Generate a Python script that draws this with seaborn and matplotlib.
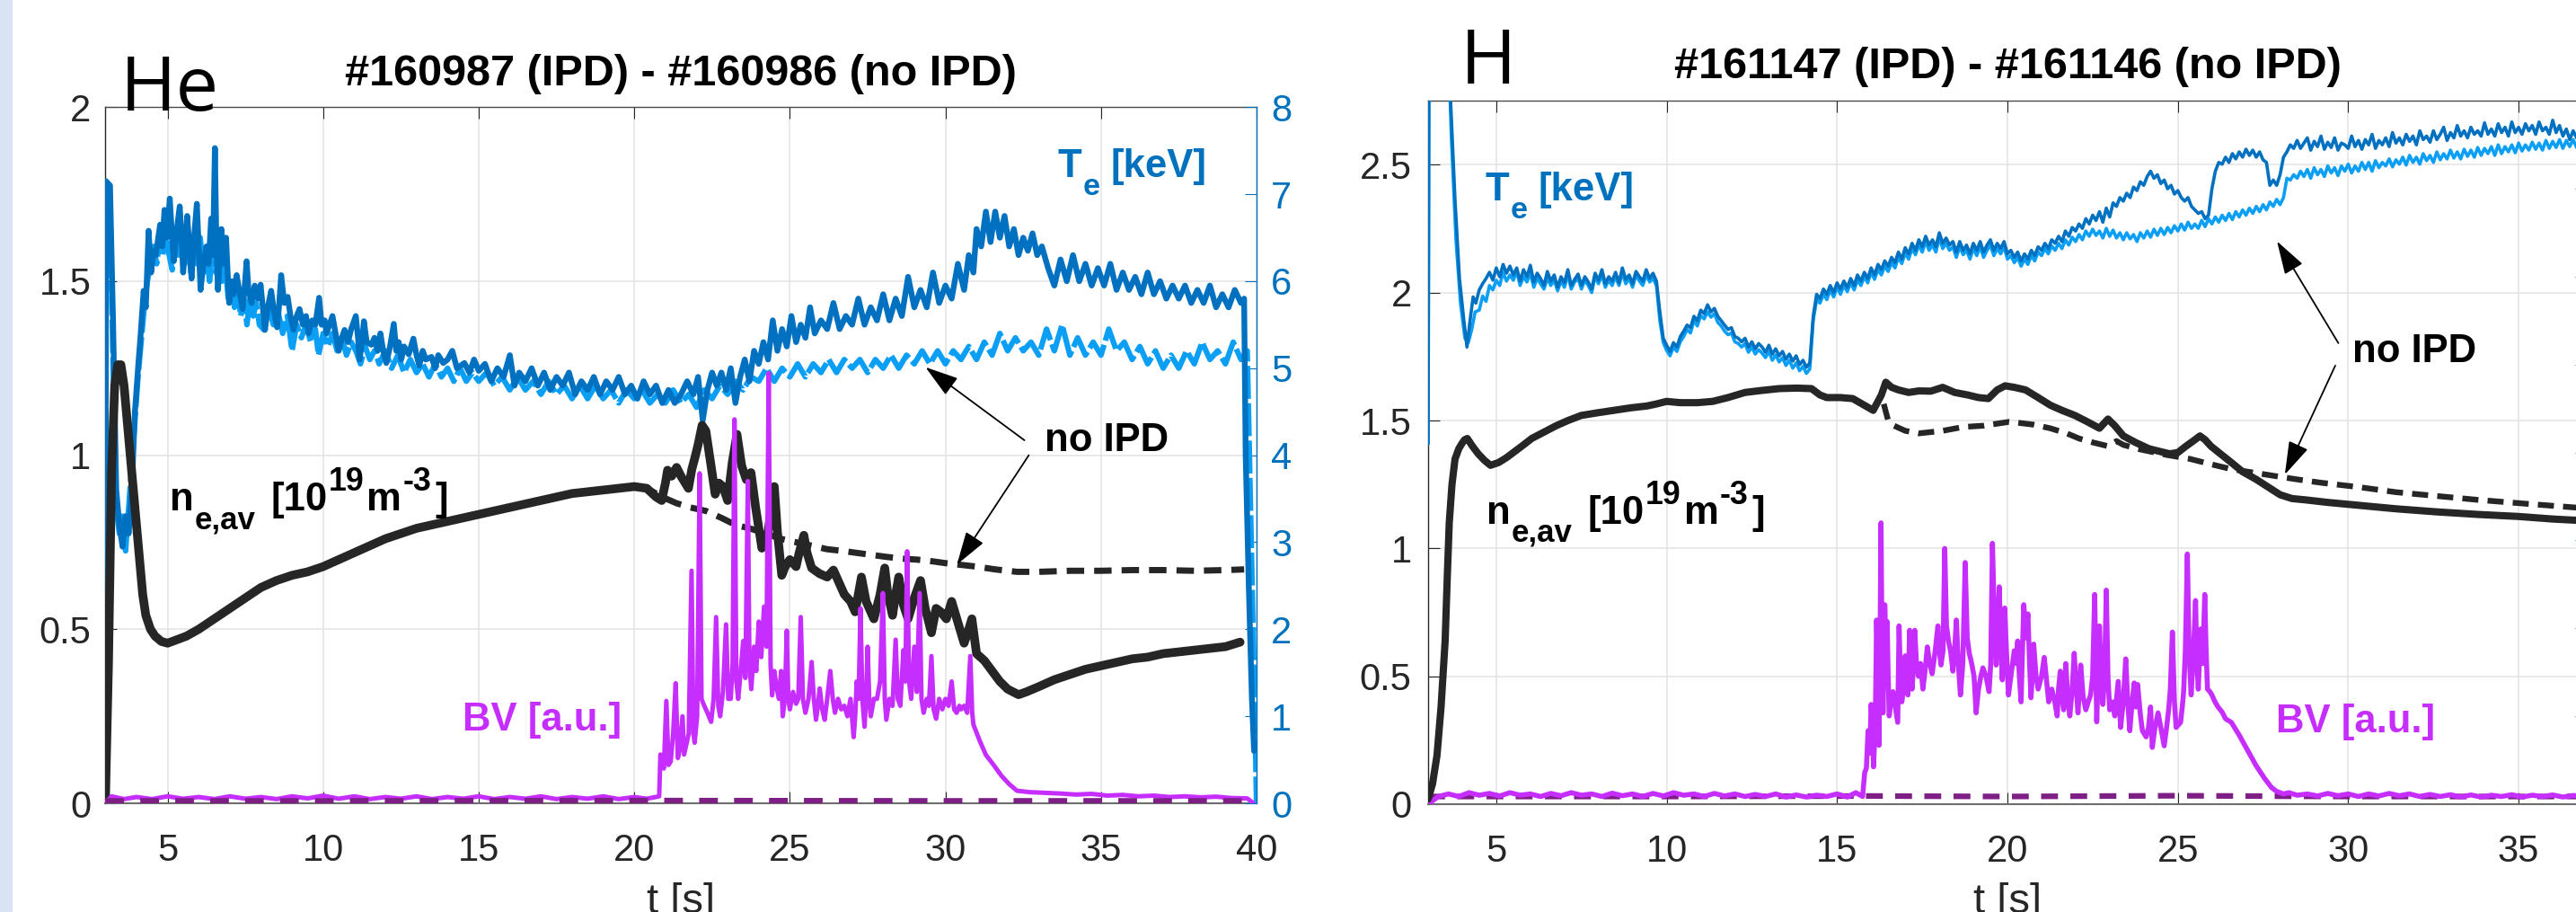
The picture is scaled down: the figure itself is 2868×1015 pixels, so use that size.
import numpy as np
import pandas as pd
import matplotlib
matplotlib.use("Agg")
import matplotlib.pyplot as plt
import seaborn as sns
from matplotlib.patches import Rectangle

W, H = 2868, 1015
sns.set_theme(style="white")
plt.rcParams["font.family"] = ["Liberation Sans", "DejaVu Sans"]

DARK_BLUE = "#0070C0"
LIGHT_BLUE = "#0A9FF5"
AX_BLUE = "#0072BD"
NE_COL = "#262626"
BV_COL = "#C62EFF"
BV_NO = "#7E1F86"

# ---------------- He panel (#160987 IPD / #160986 no IPD) ----------------
te_ipd_he = [(3.00,0.5),(3.02,7.15),(3.15,7.1),(3.25,5.5),(3.35,3.6),(3.45,3.2),(3.55,2.95),(3.65,3.3),(3.75,3.1),(3.85,3.6),(3.95,4.5),(4.05,5.0),(4.13,5.37),(4.23,5.89),(4.30,5.7),(4.39,6.58),(4.47,6.1),(4.55,6.35),(4.62,6.3),(4.70,6.5),(4.76,6.65),(4.83,6.4),(4.90,6.82),(4.98,6.5),(5.07,6.95),(5.13,6.6),(5.20,6.23),(5.30,6.6),(5.39,6.86),(5.45,6.5),(5.50,6.1),(5.57,6.4),(5.63,6.75),(5.70,6.4),(5.77,6.03),(5.85,6.5),(5.94,6.89),(6.00,6.4),(6.06,5.9),(6.15,6.2),(6.25,6.4),(6.32,6.2),(6.40,6.72),(6.46,6.3),(6.52,7.53),(6.57,6.4),(6.62,5.9),(6.68,6.3),(6.73,6.6),(6.80,6.2),(6.88,6.5),(6.93,6.1),(6.98,5.75),(7.05,6.0),(7.12,5.85),(7.22,6.07),(7.30,5.9),(7.41,5.68),(7.47,5.9),(7.54,6.23),(7.60,5.9),(7.70,5.75),(7.80,5.95),(7.90,5.8),(7.99,5.96),(8.06,5.7),(8.13,5.44),(8.22,5.7),(8.33,5.89),(8.42,5.65),(8.52,5.47),(8.58,5.7),(8.65,6.07),(8.75,5.75),(8.86,5.82),(8.95,5.6),(9.05,5.44),(9.15,5.6),(9.24,5.68),(9.35,5.5),(9.45,5.6),(9.53,5.4),(9.65,5.55),(9.75,5.5),(9.87,5.81),(9.95,5.5),(10.05,5.55),(10.11,5.4),(10.20,5.5),(10.30,5.6),(10.40,5.4),(10.50,5.2),(10.60,5.35),(10.69,5.44),(10.80,5.3),(10.90,5.45),(11.05,5.6),(11.12,5.35),(11.17,5.1),(11.25,5.3),(11.31,5.54),(11.40,5.3),(11.55,5.27),(11.65,5.35),(11.75,5.2),(11.84,5.4),(11.93,5.2),(12.03,5.06),(12.15,5.25),(12.27,5.51),(12.35,5.2),(12.43,5.3),(12.51,5.1),(12.60,5.25),(12.75,5.16),(12.90,5.34),(13.00,5.15),(13.09,5.03),(13.20,5.2),(13.30,5.1),(13.48,5.13),(13.60,5.0),(13.70,5.15),(13.86,5.06),(14.00,5.1),(14.15,5.2),(14.30,5.0),(14.54,5.06),(14.70,4.95),(14.85,5.1),(15.00,4.97),(15.20,5.05),(15.40,4.85),(15.60,5.0),(15.80,4.9),(16.00,5.15),(16.15,4.8),(16.30,4.95),(16.50,4.85),(16.70,5.0),(16.90,4.8),(17.10,4.95),(17.30,4.75),(17.50,4.9),(17.70,4.8),(17.90,4.95),(18.10,4.7),(18.30,4.85),(18.50,4.75),(18.70,4.9),(18.90,4.7),(19.10,4.85),(19.30,4.75),(19.50,4.9),(19.70,4.7),(19.90,4.8),(20.10,4.65),(20.30,4.85),(20.50,4.7),(20.70,4.8),(20.90,4.6),(21.10,4.75),(21.30,4.6),(21.50,4.7),(21.70,4.85),(21.90,4.7),(22.05,4.9),(22.20,4.4),(22.35,4.75),(22.50,4.95),(22.65,4.8),(22.80,4.95),(22.95,4.75),(23.10,5.0),(23.25,4.6),(23.40,4.9),(23.55,5.1),(23.70,4.85),(23.85,5.2),(24.00,5.05),(24.15,5.3),(24.30,5.1),(24.45,5.55),(24.60,5.2),(24.75,5.45),(24.90,5.25),(25.05,5.6),(25.20,5.3),(25.35,5.5),(25.50,5.35),(25.65,5.7),(25.80,5.4),(26.00,5.55),(26.20,5.45),(26.40,5.75),(26.60,5.45),(26.80,5.6),(27.00,5.5),(27.20,5.8),(27.40,5.5),(27.60,5.7),(27.80,5.55),(28.00,5.85),(28.20,5.55),(28.40,5.8),(28.60,5.6),(28.80,6.05),(29.00,5.7),(29.20,5.9),(29.40,5.7),(29.60,6.1),(29.80,5.75),(30.00,5.95),(30.20,5.8),(30.40,6.2),(30.60,5.9),(30.75,6.3),(30.90,6.1),(31.00,6.6),(31.15,6.4),(31.30,6.8),(31.45,6.45),(31.60,6.8),(31.75,6.5),(31.90,6.75),(32.05,6.4),(32.20,6.6),(32.35,6.3),(32.50,6.5),(32.65,6.35),(32.80,6.55),(32.95,6.3),(33.10,6.4),(33.30,6.15),(33.50,5.95),(33.70,6.25),(33.90,6.0),(34.10,6.3),(34.30,6.0),(34.50,6.2),(34.70,5.95),(34.90,6.15),(35.10,5.95),(35.30,6.2),(35.50,5.9),(35.70,6.1),(35.90,5.9),(36.10,6.05),(36.30,5.85),(36.50,6.1),(36.70,5.85),(36.90,6.0),(37.10,5.8),(37.30,5.95),(37.50,5.8),(37.70,5.95),(37.90,5.75),(38.10,5.9),(38.30,5.75),(38.50,5.95),(38.70,5.7),(38.90,5.85),(39.10,5.7),(39.30,5.9),(39.50,5.75),(39.60,5.8),(39.65,4.0),(39.75,2.5),(39.85,1.2),(39.92,0.6)]

te_noipd_he = [(3.0,0.3),(3.03,7.0),(3.15,6.9),(3.25,5.0),(3.35,3.4),(3.45,3.1),(3.55,3.3),(3.65,2.9),(3.75,3.4),(3.85,3.9),(3.95,4.4),(4.05,4.9),(4.15,5.3),(4.25,5.7),(4.35,6.0),(4.45,6.2),(4.55,6.4),(4.65,6.2),(4.75,6.5),(4.85,6.3),(4.95,6.6),(5.05,6.3),(5.15,6.13),(5.25,6.5),(5.35,6.3),(5.45,6.6),(5.55,6.2),(5.65,6.5),(5.75,6.1),(5.85,6.4),(5.95,6.2),(6.05,6.5),(6.15,6.1),(6.25,6.3),(6.35,6.0),(6.45,6.4),(6.55,6.1),(6.65,6.3),(6.75,6.0),(6.85,6.2),(6.95,5.8),(7.05,6.0),(7.15,5.7),(7.25,5.9),(7.35,5.6),(7.45,5.8),(7.55,5.5),(7.65,5.8),(7.75,5.6),(7.85,5.75),(7.95,5.5),(8.1,5.44),(8.25,5.7),(8.4,5.5),(8.55,5.65),(8.7,5.4),(8.85,5.6),(9.0,5.2),(9.15,5.5),(9.3,5.35),(9.45,5.5),(9.6,5.3),(9.75,5.45),(9.85,5.15),(10.0,5.4),(10.15,5.25),(10.3,5.4),(10.45,5.2),(10.6,5.35),(10.75,5.15),(10.9,5.3),(11.05,5.2),(11.2,5.05),(11.35,5.25),(11.5,5.1),(11.65,5.2),(11.8,5.05),(12.0,5.2),(12.2,5.0),(12.4,5.15),(12.6,4.95),(12.8,5.1),(13.0,4.95),(13.2,5.05),(13.4,4.9),(13.6,5.05),(13.8,4.9),(14.0,5.0),(14.2,4.85),(14.4,5.0),(14.6,4.85),(14.8,4.95),(15.0,4.85),(15.25,4.95),(15.5,4.8),(15.75,4.9),(16.0,4.75),(16.25,4.9),(16.5,4.75),(16.75,4.85),(17.0,4.7),(17.25,4.85),(17.5,4.7),(17.75,4.8),(18.0,4.65),(18.25,4.8),(18.5,4.65),(18.75,4.8),(19.0,4.65),(19.25,4.75),(19.5,4.6),(19.75,4.75),(20.0,4.65),(20.25,4.75),(20.5,4.6),(20.75,4.7),(21.0,4.6),(21.25,4.75),(21.5,4.6),(21.75,4.7),(22.0,4.55),(22.25,4.75),(22.5,4.65),(22.75,4.8),(23.0,4.7),(23.25,4.85),(23.5,4.75),(23.75,4.9),(24.0,4.85),(24.25,5.0),(24.5,4.85),(24.75,5.0),(25.0,4.9),(25.25,5.05),(25.5,4.9),(25.75,5.05),(26.0,4.95),(26.25,5.1),(26.5,4.95),(26.75,5.1),(27.0,5.0),(27.25,5.1),(27.5,4.95),(27.75,5.1),(28.0,5.0),(28.25,5.15),(28.5,5.0),(28.75,5.15),(29.0,5.05),(29.25,5.2),(29.5,5.05),(29.75,5.2),(30.0,5.05),(30.25,5.2),(30.5,5.1),(30.75,5.25),(31.0,5.1),(31.25,5.3),(31.5,5.15),(31.75,5.4),(32.0,5.2),(32.25,5.35),(32.5,5.2),(32.75,5.3),(33.0,5.15),(33.25,5.45),(33.5,5.2),(33.75,5.5),(34.0,5.15),(34.25,5.35),(34.5,5.15),(34.75,5.3),(35.0,5.15),(35.25,5.45),(35.5,5.2),(35.75,5.3),(36.0,5.1),(36.25,5.25),(36.5,5.05),(36.75,5.2),(37.0,5.0),(37.25,5.15),(37.5,5.0),(37.75,5.2),(38.0,5.05),(38.25,5.3),(38.5,5.1),(38.75,5.2),(39.0,5.05),(39.25,5.3),(39.5,5.1),(39.7,5.2),(39.8,3.5),(39.9,1.8),(39.97,0.5),(40.0,0.0)]

ne_common_he = [(3.0,0.0),(3.1,0.4),(3.2,0.95),(3.3,1.2),(3.4,1.26),(3.5,1.26),(3.6,1.2),(3.7,1.1),(3.8,1.0),(3.9,0.9),(4.0,0.8),(4.1,0.7),(4.2,0.6),(4.3,0.54),(4.45,0.5),(4.6,0.48),(4.8,0.465),(5.0,0.46),(5.3,0.47),(5.6,0.48),(6.0,0.5),(6.5,0.53),(7.0,0.56),(7.5,0.59),(8.0,0.62),(8.5,0.64),(9.0,0.655),(9.5,0.665),(10.0,0.68),(10.5,0.70),(11.0,0.72),(11.5,0.74),(12.0,0.76),(12.5,0.775),(13.0,0.79),(13.5,0.80),(14.0,0.81),(14.5,0.82),(15.0,0.83),(15.5,0.84),(16.0,0.85),(16.5,0.86),(17.0,0.87),(17.5,0.88),(18.0,0.89),(18.5,0.895),(19.0,0.90),(19.5,0.905),(20.0,0.91),(20.4,0.905)]
ne_ipd_he_tail = [(20.7,0.88),(20.88,0.87),(21.0,0.92),(21.07,0.957),(21.2,0.94),(21.36,0.965),(21.5,0.94),(21.74,0.905),(21.85,0.96),(21.94,0.99),(22.05,1.03),(22.18,1.086),(22.3,1.07),(22.45,0.98),(22.6,0.888),(22.72,0.92),(22.85,0.91),(23.0,0.87),(23.15,0.98),(23.3,1.06),(23.45,0.97),(23.6,0.93),(23.75,0.95),(23.9,0.85),(24.1,0.733),(24.3,0.78),(24.5,0.91),(24.6,0.78),(24.74,0.655),(24.85,0.68),(25.0,0.70),(25.2,0.68),(25.3,0.72),(25.45,0.77),(25.55,0.72),(25.7,0.676),(25.95,0.66),(26.2,0.65),(26.4,0.67),(26.55,0.64),(26.75,0.60),(26.95,0.58),(27.1,0.55),(27.2,0.6),(27.3,0.65),(27.45,0.58),(27.7,0.53),(27.9,0.6),(28.05,0.676),(28.15,0.6),(28.3,0.54),(28.4,0.6),(28.5,0.65),(28.65,0.57),(28.8,0.53),(29.0,0.59),(29.2,0.64),(29.35,0.56),(29.55,0.49),(29.7,0.56),(29.85,0.55),(30.03,0.53),(30.2,0.58),(30.4,0.52),(30.6,0.46),(30.75,0.5),(30.85,0.53),(31.0,0.43),(31.25,0.41),(31.5,0.38),(31.75,0.35),(32.0,0.328),(32.35,0.312),(32.6,0.32),(33.0,0.335),(33.5,0.355),(34.0,0.37),(34.5,0.385),(35.0,0.395),(35.5,0.405),(36.0,0.415),(36.5,0.42),(37.0,0.43),(37.5,0.435),(38.0,0.44),(38.5,0.445),(39.0,0.45),(39.47,0.463)]
ne_noipd_he_tail = [(20.9,0.88),(21.36,0.862),(21.8,0.85),(22.3,0.84),(22.8,0.82),(23.25,0.80),(23.7,0.79),(24.2,0.776),(24.7,0.76),(25.2,0.75),(25.7,0.74),(26.2,0.73),(26.7,0.725),(27.1,0.72),(27.6,0.714),(28.1,0.708),(28.6,0.703),(29.1,0.70),(29.6,0.695),(30.0,0.69),(30.5,0.685),(31.0,0.68),(31.6,0.672),(32.3,0.665),(33.0,0.665),(34.0,0.668),(35.0,0.668),(36.0,0.67),(37.0,0.67),(38.0,0.668),(39.0,0.67),(39.6,0.672)]

bv_ipd_he = [(3.0,0.0),(3.2,0.02),(3.6,0.012),(4.0,0.018),(4.5,0.012),(5.0,0.02),(5.5,0.013),(6.0,0.018),(6.5,0.012),(7.0,0.02),(7.5,0.013),(8.0,0.018),(8.5,0.012),(9.0,0.02),(9.5,0.014),(10.0,0.022),(10.5,0.013),(11.0,0.02),(11.5,0.012),(12.0,0.018),(12.5,0.013),(13.0,0.02),(13.5,0.012),(14.0,0.018),(14.5,0.013),(15.0,0.02),(15.5,0.012),(16.0,0.018),(16.5,0.013),(17.0,0.02),(17.5,0.012),(18.0,0.018),(18.5,0.013),(19.0,0.02),(19.5,0.012),(20.0,0.018),(20.4,0.013),(20.8,0.02),(20.84,0.14),(20.95,0.1),(21.03,0.294),(21.1,0.11),(21.17,0.12),(21.25,0.2),(21.33,0.345),(21.4,0.13),(21.45,0.15),(21.55,0.25),(21.6,0.14),(21.65,0.16),(21.75,0.2),(21.84,0.668),(21.9,0.2),(21.94,0.174),(22.02,0.25),(22.1,0.948),(22.16,0.3),(22.22,0.286),(22.35,0.26),(22.47,0.234),(22.55,0.3),(22.63,0.535),(22.7,0.28),(22.76,0.25),(22.85,0.32),(22.95,0.514),(23.02,0.3),(23.1,0.3),(23.16,0.4),(23.22,1.103),(23.28,0.35),(23.34,0.3),(23.42,0.38),(23.5,0.466),(23.57,0.36),(23.65,0.926),(23.7,0.4),(23.76,0.328),(23.85,0.45),(23.92,0.38),(24.0,0.522),(24.08,0.42),(24.17,0.565),(24.25,0.45),(24.32,1.236),(24.38,0.4),(24.43,0.31),(24.5,0.38),(24.58,0.33),(24.65,0.3),(24.72,0.38),(24.77,0.25),(24.84,0.3),(24.9,0.496),(24.95,0.3),(25.0,0.27),(25.1,0.32),(25.2,0.286),(25.27,0.3),(25.35,0.535),(25.42,0.3),(25.5,0.26),(25.6,0.3),(25.7,0.406),(25.77,0.3),(25.84,0.24),(25.9,0.28),(25.96,0.33),(26.04,0.27),(26.12,0.24),(26.2,0.3),(26.3,0.38),(26.38,0.3),(26.45,0.26),(26.55,0.3),(26.65,0.27),(26.75,0.28),(26.85,0.25),(26.95,0.3),(27.05,0.19),(27.1,0.25),(27.15,0.35),(27.21,0.3),(27.27,0.56),(27.33,0.3),(27.4,0.22),(27.45,0.3),(27.5,0.45),(27.55,0.3),(27.6,0.25),(27.7,0.3),(27.8,0.3),(27.9,0.35),(27.99,0.604),(28.05,0.3),(28.1,0.24),(28.2,0.3),(28.3,0.28),(28.4,0.47),(28.47,0.3),(28.55,0.28),(28.65,0.44),(28.71,0.35),(28.77,0.724),(28.83,0.35),(28.9,0.3),(29.0,0.45),(29.08,0.32),(29.17,0.604),(29.23,0.3),(29.3,0.26),(29.4,0.3),(29.47,0.28),(29.55,0.423),(29.62,0.27),(29.7,0.243),(29.8,0.3),(29.9,0.27),(30.0,0.3),(30.1,0.28),(30.2,0.35),(30.28,0.27),(30.36,0.26),(30.45,0.28),(30.5,0.27),(30.6,0.28),(30.7,0.26),(30.8,0.423),(30.86,0.26),(30.9,0.226),(31.1,0.18),(31.3,0.139),(31.55,0.11),(31.8,0.079),(32.05,0.055),(32.3,0.036),(32.7,0.032),(33.2,0.03),(33.7,0.028),(34.2,0.025),(34.7,0.027),(35.2,0.022),(35.7,0.024),(36.2,0.02),(36.7,0.022),(37.2,0.018),(37.7,0.02),(38.2,0.017),(38.7,0.019),(39.2,0.015),(39.7,0.014),(39.9,0.0)]
bv_noipd_he = [(3.0,0.006),(10.0,0.006),(20.0,0.007),(30.0,0.006),(39.9,0.006)]

# ---------------- H panel (#161147 IPD / #161146 no IPD) ----------------
# Te start (pairs) then samples every 0.1 s from 4.5 s to 37.0 s
te_ipd_h_start = [(3.0,4.1),(3.02,8.6),(3.6,8.6),(3.66,8.0),(3.79,6.87),(3.92,5.98),(4.05,5.5),(4.14,5.2),(4.23,5.5),(4.32,5.77),(4.40,5.7)]
te_ipd_h_vals = [5.85,5.92,5.98,6.05,5.96,6.1,6.0,6.14,6.04,6.12,
6.02,6.1,5.95,6.08,6.0,6.13,5.94,6.04,5.98,5.9,
6.06,5.95,6.02,5.88,6.0,5.93,6.08,5.9,5.97,6.03,
5.9,6.0,5.94,5.86,6.04,5.96,6.08,5.92,6.0,5.95,
6.05,5.93,6.1,5.97,6.02,5.92,6.06,6.0,5.95,6.08,
5.98,6.04,5.95,5.6,5.3,5.22,5.15,5.25,5.2,5.32,
5.38,5.45,5.42,5.55,5.5,5.62,5.58,5.68,5.6,5.64,
5.55,5.5,5.45,5.4,5.42,5.32,5.3,5.26,5.3,5.2,
5.26,5.18,5.24,5.2,5.14,5.22,5.12,5.18,5.1,5.15,
5.06,5.12,5.04,5.1,5.0,5.05,4.97,5.02,5.55,5.8,
5.75,5.86,5.8,5.9,5.82,5.93,5.86,5.95,5.88,5.98,
5.9,6.02,5.95,6.05,5.98,6.1,6.02,6.14,6.08,6.18,
6.12,6.22,6.16,6.28,6.2,6.33,6.26,6.38,6.3,6.42,
6.34,6.46,6.36,6.42,6.34,6.5,6.38,6.44,6.36,6.4,
6.28,6.4,6.3,6.36,6.26,6.38,6.3,6.4,6.28,6.36,
6.42,6.3,6.38,6.32,6.4,6.26,6.3,6.22,6.28,6.18,
6.26,6.2,6.3,6.24,6.34,6.3,6.38,6.32,6.42,6.38,
6.46,6.4,6.52,6.46,6.56,6.52,6.6,6.55,6.66,6.6,
6.7,6.64,6.74,6.62,6.78,6.68,6.84,6.8,6.9,6.86,
6.95,6.9,7.02,6.98,7.08,7.04,7.14,7.2,7.12,7.16,
7.06,7.1,7.0,7.04,6.94,6.98,6.9,6.86,6.9,6.8,
6.76,6.72,6.74,6.66,6.7,7.0,7.2,7.3,7.28,7.36,
7.3,7.4,7.34,7.42,7.36,7.45,7.38,7.44,7.36,7.42,
7.33,7.3,7.04,7.1,7.04,7.16,7.36,7.42,7.5,7.46,
7.55,7.46,7.52,7.58,7.44,7.54,7.48,7.6,7.45,7.53,
7.47,7.58,7.44,7.52,7.5,7.46,7.6,7.48,7.55,7.45,
7.56,7.5,7.62,7.46,7.55,7.5,7.58,7.48,7.64,7.52,
7.58,7.5,7.62,7.54,7.6,7.5,7.66,7.56,7.6,7.53,
7.66,7.56,7.62,7.7,7.55,7.64,7.58,7.72,7.6,7.66,
7.58,7.7,7.62,7.66,7.6,7.75,7.62,7.68,7.6,7.74,
7.64,7.7,7.6,7.76,7.64,7.7,7.62,7.74,7.66,7.72,
7.62,7.76,7.66,7.7,7.62,7.78,7.64,7.72,7.6,7.68,
7.56,7.66,7.58,7.64,7.6,7.64]

te_noipd_h_start = [(3.0,4.1),(3.03,8.6),(3.6,8.6),(3.68,7.6),(3.82,6.4),(3.95,5.7),(4.08,5.3),(4.18,5.25),(4.28,5.4),(4.38,5.6)]
te_noipd_h_vals = [5.62,5.78,5.72,5.9,5.85,5.96,5.9,6.05,5.95,6.02,
5.96,6.06,5.9,6.0,5.94,6.04,5.88,5.98,5.92,5.86,
5.98,5.9,5.96,5.84,5.95,5.88,6.02,5.86,5.94,5.98,
5.86,5.96,5.9,5.82,6.0,5.92,6.02,5.88,5.96,5.9,
6.0,5.9,6.04,5.92,5.98,5.88,6.02,5.95,5.9,6.02,
5.94,5.98,5.9,5.5,5.25,5.16,5.1,5.2,5.15,5.26,
5.32,5.4,5.36,5.5,5.44,5.56,5.52,5.6,5.54,5.58,
5.48,5.44,5.38,5.34,5.36,5.26,5.24,5.2,5.24,5.14,
5.2,5.12,5.17,5.13,5.08,5.15,5.05,5.11,5.03,5.08,
4.99,5.05,4.96,5.02,4.93,4.98,4.9,4.95,5.5,5.74,
5.7,5.8,5.74,5.85,5.77,5.88,5.8,5.9,5.83,5.93,
5.85,5.96,5.9,6.0,5.93,6.05,5.97,6.08,6.02,6.12,
6.06,6.16,6.1,6.22,6.15,6.27,6.2,6.32,6.25,6.36,
6.28,6.4,6.3,6.36,6.28,6.44,6.32,6.38,6.3,6.34,
6.22,6.34,6.25,6.3,6.2,6.32,6.24,6.34,6.22,6.3,
6.36,6.24,6.32,6.26,6.34,6.2,6.24,6.16,6.22,6.12,
6.2,6.14,6.24,6.18,6.28,6.24,6.32,6.26,6.35,6.3,
6.38,6.32,6.42,6.36,6.45,6.4,6.48,6.42,6.52,6.46,
6.54,6.47,6.52,6.44,6.55,6.46,6.53,6.44,6.5,6.42,
6.5,6.43,6.48,6.4,6.5,6.44,6.52,6.45,6.54,6.47,
6.55,6.48,6.56,6.5,6.58,6.52,6.6,6.53,6.62,6.55,
6.6,6.55,6.64,6.57,6.66,6.6,6.68,6.62,6.7,6.64,
6.72,6.65,6.74,6.68,6.76,6.7,6.78,6.72,6.8,6.74,
6.82,6.76,6.85,6.8,6.88,6.82,6.9,7.12,7.1,7.16,
7.12,7.2,7.14,7.22,7.12,7.24,7.16,7.22,7.14,7.26,
7.18,7.24,7.15,7.26,7.2,7.28,7.18,7.26,7.2,7.3,
7.22,7.3,7.2,7.32,7.24,7.3,7.26,7.34,7.25,7.33,
7.28,7.36,7.27,7.38,7.3,7.36,7.28,7.4,7.32,7.38,
7.3,7.42,7.33,7.4,7.34,7.44,7.35,7.42,7.34,7.45,
7.37,7.44,7.36,7.47,7.38,7.46,7.4,7.48,7.38,7.5,
7.4,7.48,7.42,7.5,7.41,7.52,7.43,7.5,7.44,7.53,
7.45,7.52,7.44,7.55,7.46,7.54,7.47,7.56,7.46,7.55,
7.48,7.56,7.47,7.54,7.5,7.52]
te_h_t0, te_h_dt = 4.5, 0.1

ne_common_h = [(3.0,0.02),(3.13,0.08),(3.26,0.19),(3.38,0.38),(3.5,0.64),(3.56,0.88),(3.62,1.1),(3.7,1.25),(3.79,1.35),(3.9,1.39),(3.99,1.41),(4.07,1.425),(4.15,1.43),(4.3,1.4),(4.47,1.37),(4.65,1.345),(4.83,1.325),(5.07,1.336),(5.3,1.355),(5.55,1.38),(5.8,1.405),(6.04,1.43),(6.4,1.455),(6.76,1.48),(7.1,1.5),(7.49,1.52),(7.95,1.53),(8.45,1.54),(8.95,1.55),(9.42,1.557),(9.7,1.565),(10.0,1.575),(10.4,1.57),(10.9,1.57),(11.35,1.575),(11.8,1.59),(12.3,1.61),(12.8,1.618),(13.3,1.625),(13.8,1.627),(14.25,1.625),(14.5,1.6),(14.7,1.59),(15.1,1.59),(15.46,1.586),(15.8,1.56),(16.06,1.54),(16.3,1.6)]
ne_ipd_h_tail = [(16.43,1.65),(16.6,1.63),(16.8,1.62),(17.1,1.61),(17.4,1.616),(17.75,1.615),(18.1,1.63),(18.45,1.61),(18.84,1.6),(19.15,1.59),(19.44,1.586),(19.7,1.62),(19.93,1.636),(20.2,1.63),(20.53,1.62),(20.9,1.59),(21.26,1.56),(21.6,1.54),(21.98,1.52),(22.35,1.495),(22.7,1.47),(22.95,1.506),(23.15,1.48),(23.4,1.44),(23.75,1.415),(24.15,1.39),(24.45,1.38),(24.76,1.37),(25.0,1.375),(25.24,1.40),(25.45,1.42),(25.65,1.44),(25.8,1.425),(25.97,1.40),(26.25,1.37),(26.57,1.336),(26.9,1.30),(27.3,1.27),(27.65,1.24),(28.0,1.21),(28.35,1.195),(28.74,1.19),(29.4,1.18),(30.2,1.17),(31.4,1.155),(32.6,1.143),(33.8,1.133),(35.0,1.125),(36.0,1.115),(37.0,1.108)]
ne_noipd_h_tail = [(16.5,1.5),(16.67,1.48),(17.0,1.46),(17.4,1.45),(17.75,1.455),(18.1,1.46),(18.7,1.475),(19.3,1.48),(20.05,1.495),(20.4,1.49),(20.77,1.484),(21.25,1.47),(21.74,1.45),(22.1,1.43),(22.46,1.416),(22.95,1.40),(23.2,1.42),(23.4,1.405),(23.8,1.39),(24.15,1.38),(24.7,1.365),(25.36,1.35),(25.95,1.33),(26.57,1.31),(27.3,1.295),(28.0,1.28),(28.6,1.268),(29.2,1.257),(30.3,1.24),(31.4,1.22),(32.6,1.205),(33.8,1.19),(35.2,1.175),(36.67,1.16),(37.0,1.158)]

bv_ipd_h = [(3.0,0.0),(3.15,0.015),(3.3,0.03),(3.6,0.04),(3.9,0.03),(4.2,0.045),(4.5,0.035),(4.8,0.042),(5.1,0.032),(5.4,0.045),(5.7,0.035),(6.0,0.04),(6.3,0.03),(6.6,0.042),(6.9,0.033),(7.2,0.045),(7.5,0.035),(7.8,0.04),(8.1,0.03),(8.4,0.043),(8.7,0.033),(9.0,0.04),(9.3,0.03),(9.6,0.042),(9.9,0.032),(10.2,0.045),(10.5,0.035),(10.8,0.04),(11.1,0.03),(11.4,0.042),(11.7,0.032),(12.0,0.04),(12.3,0.03),(12.6,0.038),(12.9,0.03),(13.2,0.04),(13.5,0.028),(13.8,0.036),(14.1,0.028),(14.4,0.035),(14.7,0.03),(15.0,0.04),(15.3,0.028),(15.55,0.045),(15.75,0.03),(15.81,0.123),(15.86,0.14),(15.91,0.287),(15.96,0.2),(16.0,0.39),(16.04,0.3),(16.07,0.146),(16.12,0.3),(16.16,0.72),(16.2,0.5),(16.23,0.23),(16.26,0.6),(16.29,1.1),(16.32,0.6),(16.35,0.357),(16.38,0.6),(16.4,0.78),(16.44,0.6),(16.47,0.714),(16.5,0.5),(16.53,0.345),(16.58,0.4),(16.64,0.44),(16.71,0.38),(16.78,0.32),(16.82,0.697),(16.86,0.5),(16.9,0.40),(16.95,0.45),(17.0,0.58),(17.04,0.5),(17.08,0.427),(17.13,0.68),(17.17,0.55),(17.2,0.45),(17.25,0.55),(17.28,0.68),(17.33,0.55),(17.39,0.50),(17.45,0.55),(17.52,0.45),(17.58,0.52),(17.65,0.615),(17.72,0.55),(17.79,0.51),(17.88,0.6),(17.96,0.697),(18.0,0.6),(18.05,0.544),(18.11,0.6),(18.16,1.0),(18.21,0.7),(18.27,0.638),(18.33,0.6),(18.4,0.52),(18.45,0.6),(18.5,0.72),(18.56,0.55),(18.62,0.427),(18.69,0.55),(18.76,0.945),(18.82,0.65),(18.88,0.59),(18.95,0.55),(19.02,0.50),(19.08,0.357),(19.15,0.45),(19.22,0.5),(19.28,0.533),(19.37,0.5),(19.46,0.44),(19.51,0.55),(19.56,1.02),(19.62,0.7),(19.67,0.544),(19.72,0.7),(19.76,0.85),(19.8,0.65),(19.85,0.486),(19.88,0.6),(19.92,0.767),(19.97,0.6),(20.03,0.427),(20.1,0.5),(20.2,0.60),(20.25,0.55),(20.3,0.638),(20.35,0.5),(20.4,0.40),(20.44,0.6),(20.48,0.78),(20.54,0.65),(20.6,0.744),(20.65,0.55),(20.69,0.416),(20.73,0.5),(20.77,0.626),(20.84,0.5),(20.9,0.45),(21.0,0.5),(21.08,0.574),(21.15,0.48),(21.21,0.40),(21.3,0.45),(21.39,0.40),(21.46,0.345),(21.5,0.45),(21.55,0.52),(21.6,0.42),(21.65,0.369),(21.71,0.55),(21.77,0.42),(21.83,0.345),(21.9,0.45),(21.96,0.59),(22.02,0.45),(22.07,0.357),(22.15,0.544),(22.22,0.42),(22.3,0.369),(22.37,0.4),(22.44,0.427),(22.5,0.5),(22.56,0.82),(22.62,0.322),(22.66,0.5),(22.7,0.697),(22.75,0.5),(22.8,0.39),(22.85,0.5),(22.9,0.837),(22.95,0.5),(23.0,0.369),(23.08,0.4),(23.15,0.345),(23.25,0.48),(23.32,0.30),(23.4,0.4),(23.47,0.568),(23.53,0.4),(23.59,0.287),(23.66,0.4),(23.72,0.474),(23.77,0.38),(23.82,0.468),(23.9,0.35),(23.96,0.287),(24.07,0.263),(24.14,0.3),(24.2,0.38),(24.25,0.222),(24.33,0.3),(24.42,0.357),(24.5,0.3),(24.6,0.228),(24.67,0.3),(24.73,0.369),(24.78,0.45),(24.84,0.673),(24.9,0.4),(24.95,0.30),(25.08,0.32),(25.13,0.38),(25.17,0.44),(25.22,0.6),(25.28,0.978),(25.33,0.6),(25.39,0.427),(25.46,0.6),(25.52,0.796),(25.56,0.55),(25.6,0.45),(25.67,0.685),(25.73,0.55),(25.79,0.82),(25.83,0.6),(25.87,0.45),(25.94,0.44),(26.0,0.427),(26.09,0.4),(26.18,0.38),(26.3,0.36),(26.4,0.334),(26.57,0.32),(26.8,0.27),(27.05,0.21),(27.3,0.15),(27.55,0.1),(27.75,0.065),(27.9,0.05),(28.1,0.04),(28.26,0.045),(28.5,0.035),(28.8,0.04),(29.1,0.032),(29.4,0.042),(29.7,0.033),(30.0,0.04),(30.3,0.03),(30.6,0.04),(30.9,0.032),(31.2,0.042),(31.5,0.033),(31.8,0.04),(32.1,0.03),(32.4,0.038),(32.7,0.03),(33.0,0.037),(33.3,0.028),(33.6,0.036),(33.9,0.028),(34.2,0.035),(34.5,0.03),(34.8,0.037),(35.1,0.028),(35.4,0.035),(35.7,0.03),(36.0,0.036),(36.3,0.028),(36.6,0.034),(37.0,0.03)]
bv_noipd_h = [(3.0,0.03),(10.0,0.03),(16.0,0.032),(20.0,0.03),(25.0,0.033),(30.0,0.03),(37.0,0.03)]

x_ticks = [5, 10, 15, 20, 25, 30, 35, 40]
he_yticks = [0, 0.5, 1, 1.5, 2]
he_ylabels = ["0", "0.5", "1", "1.5", "2"]
h_yticks = [0, 0.5, 1, 1.5, 2, 2.5]
h_ylabels = ["0", "0.5", "1", "1.5", "2", "2.5"]
te_ticks = [0, 1, 2, 3, 4, 5, 6, 7, 8]


def sampled(start_pairs, vals, t0, dt):
    return list(start_pairs) + [(round(t0 + dt * i, 3), v) for i, v in enumerate(vals)]


fig = plt.figure(figsize=(W / 100, H / 100), dpi=100)
fig.patch.set_facecolor("white")
fig.add_artist(Rectangle((0, 0), 14 / W, 1, transform=fig.transFigure,
                         facecolor="#DAE3F3", edgecolor="none", zorder=-5))


def draw(ax, pts, color, lw, ls="-", z=2):
    df = pd.DataFrame(pts, columns=["t", "v"])
    sns.lineplot(data=df, x="t", y="v", ax=ax, color=color, linewidth=lw,
                 linestyle=ls, estimator=None, sort=False, zorder=z, legend=False,
                 solid_joinstyle="round")


def make_panel(px_left, px_right, px_top, px_bottom):
    rect = [px_left / W, 1 - px_bottom / H, (px_right - px_left) / W, (px_bottom - px_top) / H]
    ax = fig.add_axes(rect)
    tw = ax.twinx()
    ov = fig.add_axes(rect, sharex=ax, sharey=ax)
    ov.set_axis_off()
    ov.patch.set_visible(False)
    return ax, tw, ov


def style_panel(ax, tw, xlim, ylim, yticks, ylabels, ypad, twpad):
    ax.set_xticks([v for v in x_ticks if xlim[0] <= v <= xlim[1]])
    ax.set_xticklabels([str(v) for v in x_ticks if xlim[0] <= v <= xlim[1]])
    ax.set_yticks(yticks)
    ax.set_yticklabels(ylabels)
    tw.set_yticks(te_ticks)
    tw.set_yticklabels([str(v) for v in te_ticks])
    ax.set_xlim(*xlim)
    ax.set_ylim(*ylim)
    tw.set_ylim(0, 8)
    ax.grid(True, color="#E3E3E3", linewidth=1.1)
    ax.tick_params(axis="both", direction="in", length=9.4, width=0.8, colors="#262626",
                   labelsize=30, top=True, bottom=True, left=True, right=False)
    ax.tick_params(axis="x", pad=24)
    ax.tick_params(axis="y", pad=ypad)
    tw.tick_params(axis="y", direction="in", length=9.4, width=0.8, colors=AX_BLUE,
                   labelsize=30, pad=twpad)
    for s in ["top", "bottom", "left", "right"]:
        tw.spines[s].set_visible(s == "right")
    tw.spines["right"].set_color(AX_BLUE)
    tw.spines["right"].set_linewidth(1.0)
    ax.spines["right"].set_visible(False)
    ax.spines["left"].set_color("#262626")
    ax.spines["top"].set_color("#4A4A4A")
    ax.spines["bottom"].set_color("#6E6E6E")
    for s in ["left", "top"]:
        ax.spines[s].set_linewidth(1.0)
    ax.spines["bottom"].set_linewidth(1.5)
    ax.set_xlabel("t [s]", fontsize=34, color="#262626")
    ax.set_ylabel("")
    tw.set_ylabel("")


# ---- He panel
axL, twL, ovL = make_panel(117.3, 1399, 119.3, 894)
draw(twL, te_noipd_he, LIGHT_BLUE, 4.4, ls=(0, (6.0, 0.8)))
draw(twL, te_ipd_he, DARK_BLUE, 4.6)
draw(ovL, ne_common_he + ne_noipd_he_tail, NE_COL, 5.0, ls=(0, (2.8, 1.6)), z=3)
draw(ovL, ne_common_he + ne_ipd_he_tail, NE_COL, 7.0, z=4)
draw(ovL, bv_ipd_he, BV_COL, 3.6, z=5)
draw(ovL, bv_noipd_he, BV_NO, 5.0, ls=(0, (3.0, 2.6)), z=6)
style_panel(axL, twL, (3, 40), (0, 2), he_yticks, he_ylabels, 11.5, 11.7)
axL.xaxis.set_label_coords(0.5, -0.1136)

# ---- H panel (extends past the right edge of the picture)
axR, twR, ovR = make_panel(1590, 2880, 112.3, 895)
draw(twR, sampled(te_noipd_h_start, te_noipd_h_vals, te_h_t0, te_h_dt), LIGHT_BLUE, 2.6)
draw(twR, sampled(te_ipd_h_start, te_ipd_h_vals, te_h_t0, te_h_dt), DARK_BLUE, 2.6)
draw(ovR, bv_noipd_h, BV_NO, 4.5, ls=(0, (3.0, 2.2)), z=3)
draw(ovR, bv_ipd_h, BV_COL, 4.0, z=4)
draw(ovR, ne_common_h + ne_noipd_h_tail, NE_COL, 4.6, ls=(0, (2.8, 1.6)), z=5)
draw(ovR, ne_common_h + ne_ipd_h_tail, NE_COL, 5.8, z=6)
style_panel(axR, twR, (3, 37), (0, 2.75), h_yticks, h_ylabels, 13.2, 11.7)
axR.xaxis.set_label_coords(0.5, -0.1112)

# ---- arrows
arrow_kw = dict(arrowstyle="-|>,head_length=1.15,head_width=0.36", color="black",
                lw=1.3, shrinkA=0, shrinkB=0, mutation_scale=20)
ovL.annotate("", xy=(29.36, 1.253), xytext=(32.54, 1.043), arrowprops=arrow_kw, zorder=10)
ovL.annotate("", xy=(30.37, 0.686), xytext=(32.68, 1.0), arrowprops=arrow_kw, zorder=10)
ovR.annotate("", xy=(27.91, 2.201), xytext=(29.71, 1.803), arrowprops=arrow_kw, zorder=10)
ovR.annotate("", xy=(28.14, 1.289), xytext=(29.62, 1.715), arrowprops=arrow_kw, zorder=10)

# ---- texts
renderer = fig.canvas.get_renderer()
S = 31.4


def rich(x, y, parts, color):
    for txt, sc, dy, gap in parts:
        t = fig.text(x / W, 1 - (y + dy) / H, txt, color=color, fontsize=S * sc,
                     fontweight="bold", ha="left", va="baseline")
        x += t.get_window_extent(renderer=renderer).width + gap


def te_label(x, y):
    rich(x, y, [("T", 1, 0, 1), ("e", 0.78, 20, 12), ("[keV]", 1, 0, 0)], AX_BLUE)


def ne_label(x, y):
    rich(x, y, [("n", 1, 0, 1), ("e,av", 0.8, 20, 17), ("[10", 1, 0, 1),
                ("19", 0.82, -22, 3), ("m", 1, 0, 1), ("-3", 0.82, -22, 4), ("]", 1, 0, 0)], "black")


te_label(1178, 197)
te_label(1654, 223)
ne_label(189, 568)
ne_label(1655, 583)
fig.text(1163 / W, 1 - 502 / H, "no IPD", fontsize=S, fontweight="bold", color="black",
         ha="left", va="baseline")
fig.text(2619 / W, 1 - 403 / H, "no IPD", fontsize=S, fontweight="bold", color="black",
         ha="left", va="baseline")
fig.text(515 / W, 1 - 813 / H, "BV [a.u.]", fontsize=S, fontweight="bold", color=BV_COL,
         ha="left", va="baseline")
fig.text(2534 / W, 1 - 815 / H, "BV [a.u.]", fontsize=S, fontweight="bold", color=BV_COL,
         ha="left", va="baseline")

fig.text(757.5 / W, 1 - 95 / H, "#160987 (IPD) - #160986 (no IPD)", fontsize=35,
         fontweight="bold", color="black", ha="center", va="baseline")
fig.text(2235 / W, 1 - 87 / H, "#161147 (IPD) - #161146 (no IPD)", fontsize=35,
         fontweight="bold", color="black", ha="center", va="baseline")
fig.text(134 / W, 1 - 123 / H, "He", fontsize=61, color="black", ha="left",
         va="baseline", family=["Open Sans", "DejaVu Sans"])
fig.text(1626 / W, 1 - 93 / H, "H", fontsize=61, color="black", ha="left",
         va="baseline", family=["Open Sans", "DejaVu Sans"])

fig.savefig("out.png", dpi=100, facecolor="white")
